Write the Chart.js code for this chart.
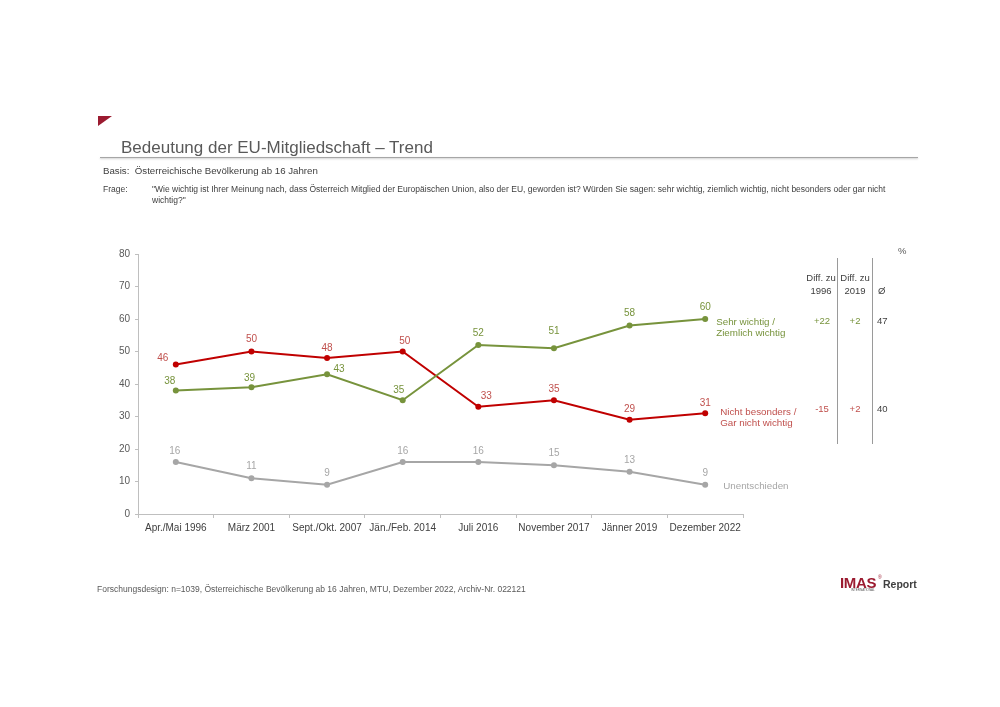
<!DOCTYPE html>
<html><head><meta charset="utf-8">
<script src="https://cdn.jsdelivr.net/npm/chart.js@4/dist/chart.umd.min.js"></script>
<style>
html,body{margin:0;padding:0;background:#fff;}
body{width:1000px;height:707px;position:relative;overflow:hidden;font-family:"Liberation Sans",Arial,sans-serif;color:#595959;}
.t{position:absolute;white-space:nowrap;line-height:1;}
#c{position:absolute;left:0;top:0;}
.vl{position:absolute;width:1px;background:#9A9A9A;}
</style></head>
<body>
<canvas id="c" width="1000" height="707"></canvas>
<div style="position:absolute;left:98px;top:116px;width:0;height:0;border-top:10px solid #9B1B30;border-right:14px solid transparent;"></div>
<div class="t" style="left:121px;top:139px;font-size:17px;color:#595959;">Bedeutung der EU-Mitgliedschaft – Trend</div>
<div style="position:absolute;left:100px;top:157px;width:818px;height:1px;background:#A6A6A6;box-shadow:0 1px 2px rgba(0,0,0,0.25);"></div>
<div class="t" style="left:103px;top:166px;font-size:9.7px;color:#404040;">Basis:&nbsp; Österreichische Bevölkerung ab 16 Jahren</div>
<div class="t" style="left:103px;top:185px;font-size:8.5px;color:#404040;">Frage:</div>
<div class="t" style="left:152px;top:184px;font-size:8.5px;color:#404040;line-height:10.5px;">"Wie wichtig ist Ihrer Meinung nach, dass Österreich Mitglied der Europäischen Union, also der EU, geworden ist? Würden Sie sagen: sehr wichtig, ziemlich wichtig, nicht besonders oder gar nicht<br>wichtig?"</div>

<div class="t" style="left:898px;top:246px;font-size:9.5px;">%</div>
<div class="vl" style="left:837px;top:258px;height:186px;"></div>
<div class="vl" style="left:872px;top:258px;height:186px;"></div>
<div class="t" style="left:800px;top:273px;width:42px;text-align:center;font-size:9.5px;color:#404040;">Diff. zu</div>
<div class="t" style="left:800px;top:286px;width:42px;text-align:center;font-size:9.5px;color:#404040;">1996</div>
<div class="t" style="left:836px;top:273px;width:38px;text-align:center;font-size:9.5px;color:#404040;">Diff. zu</div>
<div class="t" style="left:836px;top:286px;width:38px;text-align:center;font-size:9.5px;color:#404040;">2019</div>
<div class="t" style="left:878px;top:286px;font-size:9.5px;color:#404040;">Ø</div>
<div class="t" style="left:800px;top:316px;width:44px;text-align:center;font-size:9.5px;color:#77933C;">+22</div>
<div class="t" style="left:836px;top:316px;width:38px;text-align:center;font-size:9.5px;color:#77933C;">+2</div>
<div class="t" style="left:877px;top:316px;font-size:9.5px;color:#404040;">47</div>
<div class="t" style="left:800px;top:404px;width:44px;text-align:center;font-size:9.5px;color:#C0504D;">-15</div>
<div class="t" style="left:836px;top:404px;width:38px;text-align:center;font-size:9.5px;color:#C0504D;">+2</div>
<div class="t" style="left:877px;top:404px;font-size:9.5px;color:#404040;">40</div>

<div class="t" style="left:97px;top:585px;font-size:8.5px;color:#595959;">Forschungsdesign: n=1039, Österreichische Bevölkerung ab 16 Jahren, MTU, Dezember 2022, Archiv-Nr. 022121</div>
<div class="t" style="left:840px;top:575px;font-size:15px;font-weight:bold;color:#9B1B30;letter-spacing:-0.3px;">IMAS</div>
<div class="t" style="left:878px;top:575px;font-size:5px;color:#9B1B30;">®</div>
<div class="t" style="left:883px;top:579px;font-size:10.5px;font-weight:bold;color:#404040;">Report</div>
<div class="t" style="left:851px;top:589px;font-size:3px;color:#595959;">INTERNATIONAL</div>

<script>
const categories = ["Apr./Mai 1996","März 2001","Sept./Okt. 2007","Jän./Feb. 2014","Juli 2016","November 2017","Jänner 2019","Dezember 2022"];
const wichtig = [38,39,43,35,52,51,58,60];
const nichtWichtig = [46,50,48,50,33,35,29,31];
const unentschieden = [16,11,9,16,16,15,13,9];
const yTicks = [0,10,20,30,40,50,60,70,80];

const greenLine = "#77933C", redLine = "#C00000", grayLine = "#A6A6A6";
const greenText = "#77933C", redText = "#C0504D", grayText = "#A6A6A6";

// label offsets (dx, dy) relative to each point
const offGreen = [[-6,-9],[-2,-9],[12,-5],[-4,-10],[0,-12],[0,-17],[0,-12],[0,-12]];
const offRed = [[-13,-6],[0,-12],[0,-10],[2,-10],[8,-11],[0,-11],[0,-11],[0,-10]];
const offGray = [[-1,-11],[0,-12],[0,-12],[0,-11],[0,-11],[0,-12],[0,-12],[0,-12]];

const seriesNames = [
  {lines:["Sehr wichtig /","Ziemlich wichtig"], dx:11, dy:3, color:greenText},
  {lines:["Nicht besonders /","Gar nicht wichtig"], dx:15, dy:-1, color:redText},
  {lines:["Unentschieden"], dx:18, dy:2, color:grayText}
];
const offsets = [offGreen, offRed, offGray];
const textColors = [greenText, redText, grayText];

const labelPlugin = {
  id:'labels',
  afterDatasetsDraw(chart){
    const ctx = chart.ctx;
    ctx.save();
    ctx.textBaseline = 'middle';
    chart.data.datasets.forEach((ds, i) => {
      const meta = chart.getDatasetMeta(i);
      ctx.font = '10px "Liberation Sans", Arial, sans-serif';
      ctx.fillStyle = textColors[i];
      ctx.textAlign = 'center';
      meta.data.forEach((pt, j) => {
        const o = offsets[i][j];
        ctx.fillText(String(ds.data[j]), pt.x + o[0], pt.y + o[1]);
      });
      const last = meta.data[meta.data.length-1];
      const s = seriesNames[i];
      ctx.font = '9.8px "Liberation Sans", Arial, sans-serif';
      ctx.textAlign = 'left';
      ctx.fillStyle = s.color;
      s.lines.forEach((l, k) => {
        ctx.fillText(l, last.x + s.dx, last.y + s.dy + k*11);
      });
    });
    ctx.restore();
  }
};

new Chart(document.getElementById('c'), {
  type:'line',
  data:{
    labels:categories,
    datasets:[
      {data:wichtig, borderColor:greenLine, backgroundColor:greenLine, borderWidth:2, pointRadius:3, pointBorderWidth:0, tension:0},
      {data:nichtWichtig, borderColor:redLine, backgroundColor:redLine, borderWidth:2, pointRadius:3, pointBorderWidth:0, tension:0},
      {data:unentschieden, borderColor:grayLine, backgroundColor:grayLine, borderWidth:2, pointRadius:3, pointBorderWidth:0, tension:0}
    ]
  },
  options:{
    responsive:false, animation:false, devicePixelRatio:1,
    layout:{padding:{left:100, right:257, top:254, bottom:163}},
    plugins:{legend:{display:false}, tooltip:{enabled:false}},
    scales:{
      x:{
        offset:true,
        grid:{drawOnChartArea:false, drawTicks:true, tickLength:4, color:'#BFBFBF', offset:true},
        border:{color:'#BFBFBF', width:1},
        ticks:{color:'#404040', font:{family:'"Liberation Sans", Arial, sans-serif', size:10}, padding:4, maxRotation:0, autoSkip:false},
        afterFit(s){ s.height = 30; }
      },
      y:{
        min:0, max:80,
        afterBuildTicks(s){ s.ticks = yTicks.map(v => ({value:v})); },
        grid:{drawOnChartArea:false, drawTicks:true, tickLength:3, color:'#BFBFBF'},
        border:{color:'#BFBFBF', width:1},
        ticks:{color:'#595959', font:{family:'"Liberation Sans", Arial, sans-serif', size:10}, padding:5},
        afterFit(s){ s.width = 38; }
      }
    }
  },
  plugins:[labelPlugin]
});
</script>
</body></html>
